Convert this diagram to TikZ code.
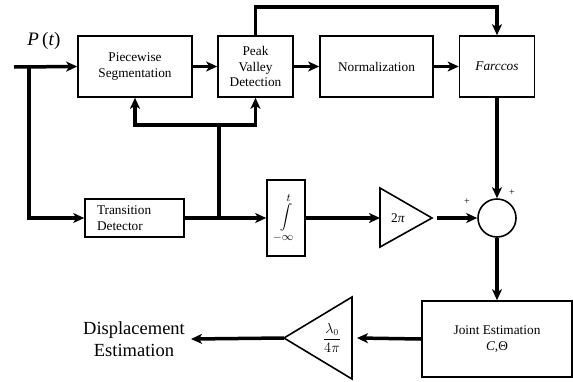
\documentclass[tikz,border=0pt]{standalone}
\usepackage{fontspec}
\setmainfont{Liberation Serif}
\usetikzlibrary{arrows.meta}

\begin{document}
\begin{tikzpicture}[
    x=1pt, y=-1pt,
    box/.style={draw, line width=1.6pt, align=center, inner sep=0pt,
                font=\fontsize{13.3}{15.5}\selectfont},
    lbl/.style={inner sep=0pt, font=\fontsize{13.3}{15.5}\selectfont},
    tri/.style={draw, line width=1.6pt, line join=miter},
    wire/.style={line width=3.5pt},
    >={Stealth[length=11pt, width=10pt, inset=3pt]}
  ]
  \useasboundingbox (0,0) rectangle (573,381);

  % top row
  \node[font=\fontsize{19}{22}\selectfont] (pt) at (44,41) {\textit{P}\,(\textit{t})};
  \coordinate (in) at (14,67);
  \coordinate (split) at (29,67);
  \node[box, minimum width=114, minimum height=61] (pws) at (135,66.5)
    {Piecewise\\Segmentation};
  \node[box, minimum width=75, minimum height=61] (pvd) at (255.5,66.5)
    {Peak\\Valley\\Detection};
  \node[box, minimum width=113, minimum height=61] (norm) at (376.5,66.5)
    {Normalization};
  \node[box, minimum width=75, minimum height=61] (farc) at (497,66.5)
    {\textit{Farccos}};

  % middle row
  \node[box, align=left, text width=75, minimum width=99, minimum height=38]
    (td) at (134.5,218) {Transition\\Detector};
  \node[box, minimum width=38, minimum height=76]
    (int) at (286,218) {\scalebox{1.25}{$\displaystyle\int\limits_{-\infty}^{t}$}};
  \draw[tri] (380,188) -- (432,218) -- (380,247) -- cycle;
  \coordinate (twopiin) at (380,218);
  \coordinate (twopiout) at (437,218);
  \node[lbl] (twopi) at (398,218) {2\textit{π}};
  \node[box, circle, minimum size=38] (sum) at (497,218) {};
  \node[font=\fontsize{10}{12}\selectfont] (plusl) at (467,202) {+};
  \node[font=\fontsize{10}{12}\selectfont] (plusr) at (512,193) {+};
  \coordinate (br) at (219,218);
  \coordinate (fb) at (219,125);

  % bottom row
  \node[box, minimum width=150, minimum height=76] (joint) at (497,339)
    {Joint Estimation\\\textit{C},Θ};
  \draw[tri] (352,297) -- (284,338) -- (352,379) -- cycle;
  \coordinate (scalein) at (357,338);
  \coordinate (scaleout) at (284,338);
  \node[lbl] (scale) at (332,338) {$\displaystyle\frac{\lambda_0}{4\pi}$};
  \node[font=\fontsize{18.5}{22}\selectfont, align=center, inner sep=6pt]
    (disp) at (134,339) {Displacement\\Estimation};

  % connectors
  \draw[wire, ->] (in) -- (pws.west);
  \draw[wire, ->] (split) |- (td.west);
  \draw[wire, ->] (pws) -- (pvd);
  \draw[wire, ->] (pvd) -- (norm);
  \draw[wire, ->] (norm) -- (farc);
  \draw[wire, ->] (pvd.north) -- ++(0,-28) -| (farc.north);
  \draw[wire, ->] (td.east) -- (int.west);
  \draw[wire] (br) -- (fb);
  \draw[wire, ->] (fb) -| (pws.south);
  \draw[wire, ->] (fb) -| (pvd.south);
  \draw[wire, ->] (int.east) -- (twopiin);
  \draw[wire, ->] (twopiout) -- (sum.west);
  \draw[wire, ->] (farc.south) -- (sum.north);
  \draw[wire, ->] (sum.south) -- (joint.north);
  \draw[wire, ->] (joint.west) -- (scalein);
  \draw[wire, ->] (scaleout) -- (disp.east);
\end{tikzpicture}
\end{document}
